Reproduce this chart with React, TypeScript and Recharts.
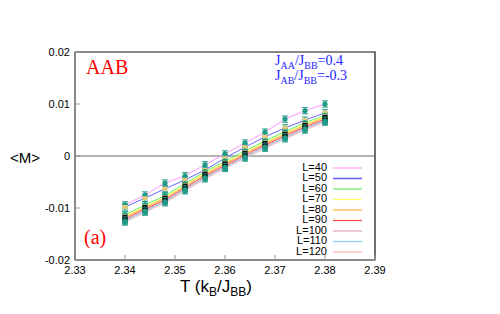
import React from 'react';
import {
  LineChart, Line, XAxis, YAxis, ErrorBar, ReferenceLine, ReferenceArea,
} from 'recharts';

const temps = [2.34, 2.344, 2.348, 2.352, 2.356, 2.36, 2.364, 2.368, 2.372, 2.376, 2.38];
const m40 = [-0.0094, -0.0075, -0.0052, -0.0038, -0.0017, 0.0004, 0.0025, 0.0046, 0.0071, 0.0087, 0.0100];
const m50 = [-0.0098, -0.0081, -0.0063, -0.0046, -0.0027, -0.0004, 0.0017, 0.0037, 0.0054, 0.0069, 0.0083];
const m60 = [-0.0113, -0.0094, -0.0076, -0.0053, -0.0030, -0.0010, 0.0010, 0.0029, 0.0047, 0.0064, 0.0078];
const m70 = [-0.0116, -0.0097, -0.0079, -0.0056, -0.0033, -0.0013, 0.0007, 0.0026, 0.0044, 0.0061, 0.0076];
const m80 = [-0.0118, -0.0099, -0.0081, -0.0058, -0.0035, -0.0015, 0.0005, 0.0024, 0.0042, 0.0059, 0.0074];
const m90 = [-0.0121, -0.0102, -0.0084, -0.0061, -0.0038, -0.0018, 0.0002, 0.0021, 0.0039, 0.0056, 0.0071];
const m100 = [-0.0123, -0.0104, -0.0086, -0.0063, -0.0040, -0.0020, 0.0000, 0.0019, 0.0037, 0.0054, 0.0069];
const m110 = [-0.0125, -0.0106, -0.0088, -0.0065, -0.0042, -0.0022, -0.0002, 0.0017, 0.0035, 0.0052, 0.0067];
const m120 = [-0.0127, -0.0108, -0.0090, -0.0067, -0.0044, -0.0024, -0.0004, 0.0015, 0.0033, 0.0050, 0.0065];
const errs = [0.0006, 0.0006, 0.0006, 0.0006, 0.0006, 0.0006, 0.0006, 0.0006, 0.0006, 0.0006, 0.0006];

const xTicks = [2.33, 2.34, 2.35, 2.36, 2.37, 2.38, 2.39];
const yTicks = [-0.02, -0.01, 0, 0.01, 0.02];

const series = [
  { key: 'L40', name: 'L=40', values: m40, color: '#ff99ff', dot: 'circle' },
  { key: 'L50', name: 'L=50', values: m50, color: '#6464ff', dot: 'tan' },
  { key: 'L60', name: 'L=60', values: m60, color: '#66ee66', dot: 'circle' },
  { key: 'L70', name: 'L=70', values: m70, color: '#ffff66', dot: 'tan' },
  { key: 'L80', name: 'L=80', values: m80, color: '#ffb030', dot: 'black' },
  { key: 'L90', name: 'L=90', values: m90, color: '#ff4444', dot: 'circle' },
  { key: 'L100', name: 'L=100', values: m100, color: '#e0a8b8', dot: 'black' },
  { key: 'L110', name: 'L=110', values: m110, color: '#88ccee', dot: 'circle' },
  { key: 'L120', name: 'L=120', values: m120, color: '#ffb4b4', dot: 'circle' },
];

const data = temps.map((T, i) => {
  const row: any = { T, e: errs[i] };
  series.forEach(s => { row[s.key] = s.values[i]; });
  return row;
});

const TEAL = '#1f9a86';
const SANS = 'Liberation Sans, Arial, sans-serif';
const SERIF = 'Liberation Serif, Times New Roman, serif';

const makeDot = (kind: string) => (props: any) => {
  const { cx, cy, index } = props;
  if (cx == null || cy == null) return <g key={index} />;
  if (kind === 'black') {
    return <rect key={index} x={cx - 2.5} y={cy - 2.5} width={5} height={5} fill="#111" />;
  }
  if (kind === 'tan') {
    return <rect key={index} x={cx - 2.5} y={cy - 2} width={5} height={4} fill="#e8c878" />;
  }
  return <circle key={index} cx={cx} cy={cy} r={2.6} fill={TEAL} />;
};

const fmtY = (v: number) => (v === 0 ? '0' : v.toFixed(2));

export default function App() {
  return (
    <div style={{ position: 'absolute', left: 0, top: 0, width: 500, height: 314, background: '#fff' }}>
      <LineChart width={500} height={314} data={data}
        margin={{ top: 52, right: 125, bottom: 34, left: 30 }}>
        <ReferenceArea x1={2.33} x2={2.39} y1={-0.02} y2={0.02} fill="none" stroke="#111" strokeWidth={1.2} />
        <ReferenceLine y={0} stroke="#666" strokeWidth={1} />
        <XAxis dataKey="T" type="number" domain={[2.33, 2.39]} ticks={xTicks} allowDataOverflow height={20}
          tickFormatter={(v: number) => v.toFixed(2)} tickSize={-5} tickMargin={11}
          axisLine={{ stroke: '#888', strokeWidth: 2 }} tickLine={{ stroke: '#999' }}
          tick={{ fontSize: 11, fill: '#000', fontFamily: SANS }} />
        <YAxis type="number" domain={[-0.02, 0.02]} ticks={yTicks} width={45} allowDataOverflow
          tickFormatter={fmtY} tickSize={-5} tickMargin={10}
          axisLine={{ stroke: '#888', strokeWidth: 2 }} tickLine={{ stroke: '#999' }}
          tick={{ fontSize: 11, fill: '#000', fontFamily: SANS }} />
        {series.map(s => (
          <Line key={s.key} dataKey={s.key} name={s.name} stroke={s.color} strokeWidth={1}
            dot={makeDot(s.dot)} activeDot={false} isAnimationActive={false}>
            <ErrorBar dataKey="e" width={3} stroke={TEAL} strokeWidth={1} direction="y" />
          </Line>
        ))}
      </LineChart>
      <svg width={500} height={314} style={{ position: 'absolute', left: 0, top: 0, pointerEvents: 'none' }}>
        <text x={86} y={74} fontSize={20} fill="#ff0000" fontFamily={SERIF}>AAB</text>
        <text x={84} y={244} fontSize={20} fill="#ff0000" fontFamily={SERIF}>(a)</text>
        <text x={275} y={65} fontSize={14} fill="#2222ff" fontFamily={SERIF}>
          J<tspan fontSize={10} dy={4}>AA</tspan><tspan dy={-4}>/J</tspan><tspan fontSize={10} dy={4}>BB</tspan><tspan dy={-4}>=0.4</tspan>
        </text>
        <text x={275} y={80} fontSize={14} fill="#2222ff" fontFamily={SERIF}>
          J<tspan fontSize={10} dy={4}>AB</tspan><tspan dy={-4}>/J</tspan><tspan fontSize={10} dy={4}>BB</tspan><tspan dy={-4}>=-0.3</tspan>
        </text>
        <text x={25} y={163} fontSize={15} textAnchor="middle" fill="#000" fontFamily={SANS}>&lt;M&gt;</text>
        <text x={180} y={292} fontSize={17} fill="#000" fontFamily={SANS}>
          T (k<tspan fontSize={12} dy={4}>B</tspan><tspan dy={-4}>/J</tspan><tspan fontSize={12} dy={4}>BB</tspan><tspan dy={-4}>)</tspan>
        </text>
        {series.map((s, i) => (
          <g key={s.key}>
            <text x={327} y={168 + i * 10.5} textAnchor="end" fontSize={11} fill="#000"
              fontFamily={SANS} dominantBaseline="middle">{s.name}</text>
            <line x1={333} x2={362} y1={168 + i * 10.5} y2={168 + i * 10.5} stroke={s.color}
              strokeWidth={s.key === 'L50' ? 1.6 : 1.2} />
          </g>
        ))}
      </svg>
    </div>
  );
}
